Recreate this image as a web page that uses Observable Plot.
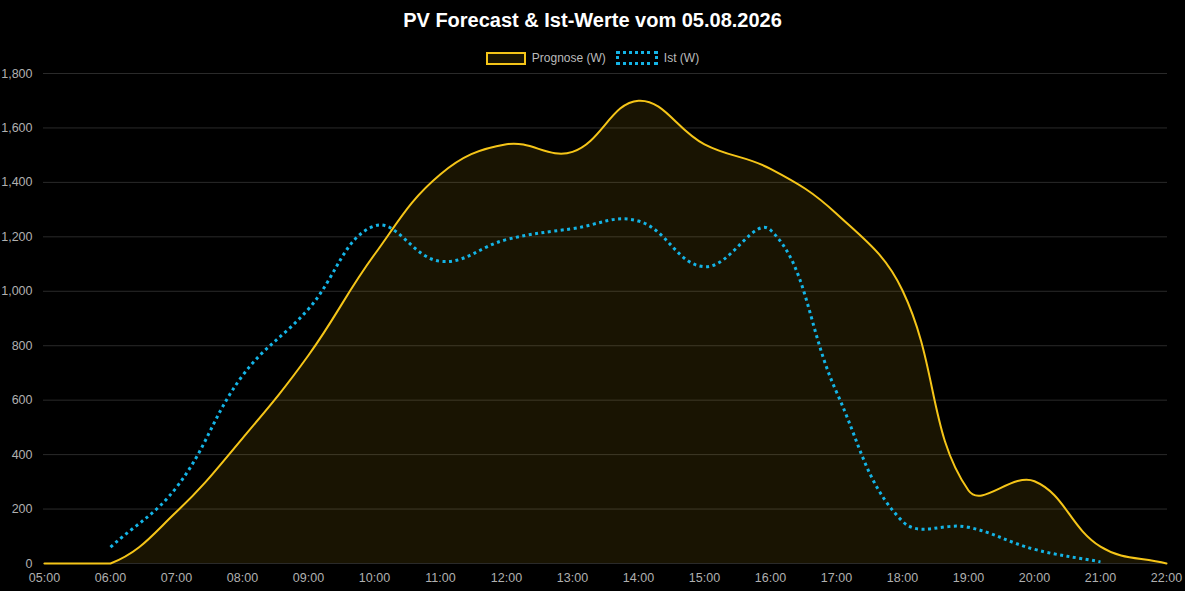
<!DOCTYPE html>
<html>
<head>
<meta charset="utf-8">
<script src="https://cdn.jsdelivr.net/npm/d3@7"></script>
<script src="https://cdn.jsdelivr.net/npm/@observablehq/plot@0.6"></script>
<style>
  html, body { margin: 0; padding: 0; background: #000; }
  body { width: 1185px; height: 591px; position: relative; overflow: hidden; font-family: "Liberation Sans", Arial, sans-serif; }
  #title { position: absolute; top: 9px; left: 0; width: 1185px; text-align: center; color: #fff; font-weight: bold; font-size: 20px; }
  #legend { position: absolute; top: 51px; left: 0; width: 1185px; display: flex; justify-content: center; align-items: center; gap: 0; color: #bbb; font-size: 12px; }
  .item { display: flex; align-items: center; margin: 0 5px; }
  .box { width: 36px; height: 9px; margin-right: 6px; }
  #chart { position: absolute; top: 65px; left: 0; }
</style>
</head>
<body>
<div id="title">PV Forecast &amp; Ist-Werte vom 05.08.2026</div>
<div id="legend">
  <div class="item"><div class="box" style="border:2px solid #f5c518;background:rgba(245,197,24,0.1)"></div>Prognose (W)</div>
  <div class="item"><div class="box" style="border:3px dotted #14b4e6;height:8px"></div>Ist (W)</div>
</div>
<div id="chart"></div>
<script>
const hours = ["05:00","06:00","07:00","08:00","09:00","10:00","11:00","12:00","13:00","14:00","15:00","16:00","17:00","18:00","19:00","20:00","21:00","22:00"];
const prognose = [0, 0, 190, 460, 765, 1135, 1430, 1540, 1512, 1700, 1540, 1450, 1285, 1003, 268, 302, 62, 0];
const ist = [null, 60, 280, 690, 935, 1240, 1110, 1190, 1230, 1258, 1090, 1225, 630, 155, 133, 52, 6, null];
const yTicks = [0, 200, 400, 600, 800, 1000, 1200, 1400, 1600, 1800];

const progData = hours.map((h, i) => ({h, v: prognose[i]}));
const istData = hours.map((h, i) => ({h, v: ist[i]})).filter(d => d.v != null);

const W = 1185, H = 526, MT = 8, MB = 28, ML = 43, MR = 18;

// Spline with tension (distance-weighted control points, capped to the plot frame)
function splineCurve(tension, box) {
  function Curve(context) { this._context = context; }
  Curve.prototype = {
    areaStart() { this._line = 0; },
    areaEnd() { this._line = NaN; },
    lineStart() { this._pts = []; },
    point(x, y) { this._pts.push([+x, +y]); },
    lineEnd() {
      const p = this._pts, n = p.length, c = this._context;
      if (n) {
        if (this._line) c.lineTo(p[0][0], p[0][1]); else c.moveTo(p[0][0], p[0][1]);
        const cp = p.map((cur, i) => {
          const prev = p[Math.max(i - 1, 0)], next = p[Math.min(i + 1, n - 1)];
          const d01 = Math.hypot(cur[0] - prev[0], cur[1] - prev[1]);
          const d12 = Math.hypot(next[0] - cur[0], next[1] - cur[1]);
          let s01 = d01 / (d01 + d12), s12 = d12 / (d01 + d12);
          if (!isFinite(s01)) s01 = 0; if (!isFinite(s12)) s12 = 0;
          const fa = tension * s01, fb = tension * s12;
          const cl = (v, a, b) => Math.max(Math.min(v, b), a);
          return {
            px: cl(cur[0] - fa * (next[0] - prev[0]), box.left, box.right),
            py: cl(cur[1] - fa * (next[1] - prev[1]), box.top, box.bottom),
            nx: cl(cur[0] + fb * (next[0] - prev[0]), box.left, box.right),
            ny: cl(cur[1] + fb * (next[1] - prev[1]), box.top, box.bottom)
          };
        });
        for (let i = 1; i < n; i++) {
          c.bezierCurveTo(cp[i - 1].nx, cp[i - 1].ny, cp[i].px, cp[i].py, p[i][0], p[i][1]);
        }
      }
      if (this._line || (this._line !== 0 && n === 1)) c.closePath();
      this._line = 1 - this._line;
    }
  };
  return (context) => new Curve(context);
}
const box = { left: ML, right: W - MR, top: MT, bottom: H - MB };
const curve = splineCurve(0.4, box);

const chart = Plot.plot({
  width: W,
  height: H,
  marginTop: MT,
  marginBottom: MB,
  marginLeft: ML,
  marginRight: MR,
  style: { background: "#000", color: "#b0b0b0", fontSize: "12.5px", fontFamily: "Liberation Sans, Arial, sans-serif" },
  x: { type: "point", domain: hours, padding: 0, label: null, tickSize: 0, tickPadding: 10 },
  y: { domain: [0, 1800], ticks: yTicks, label: null, tickSize: 0, tickPadding: 11, tickFormat: d3.format(",") },
  marks: [
    Plot.ruleY(yTicks, { stroke: "#2a2a2a", strokeWidth: 1 }),
    Plot.areaY(progData, { x: "h", y: "v", curve, fill: "#f5c518", fillOpacity: 0.1 }),
    Plot.lineY(progData, { x: "h", y: "v", curve, stroke: "#f5c518", strokeWidth: 2 }),
    Plot.lineY(istData, { x: "h", y: "v", curve, stroke: "#14b4e6", strokeWidth: 3, strokeDasharray: "3,3.5", strokeLinecap: "butt" })
  ]
});
document.getElementById("chart").appendChild(chart);
</script>
</body>
</html>
